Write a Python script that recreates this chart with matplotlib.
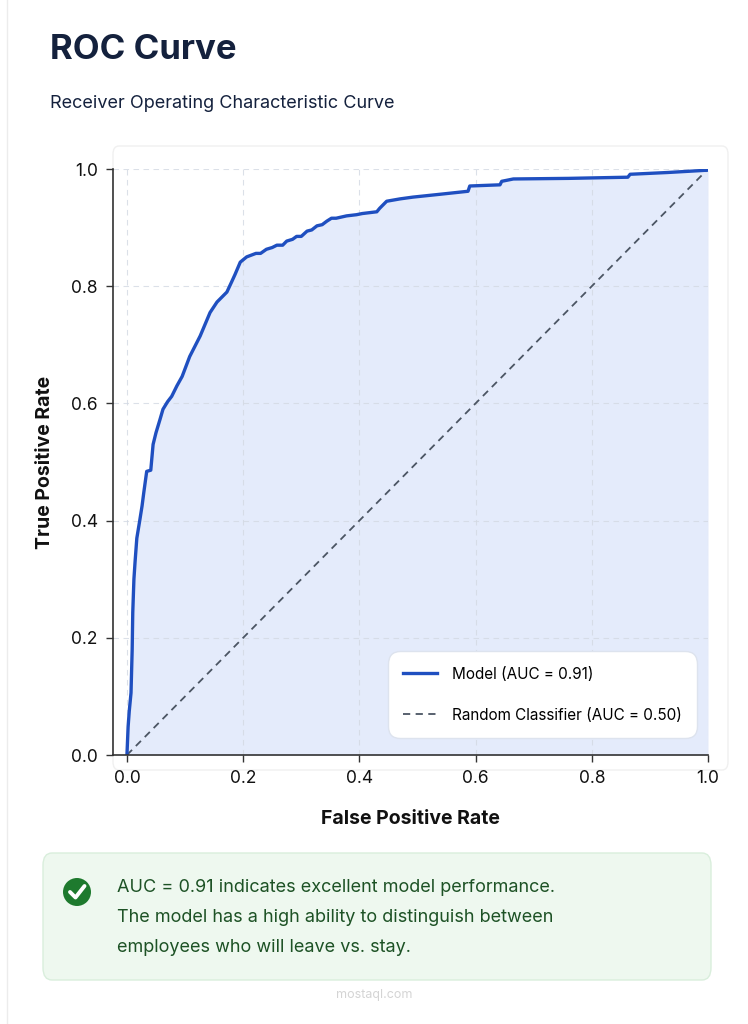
import numpy as np
import matplotlib
matplotlib.use("Agg")
import matplotlib.pyplot as plt
from matplotlib.patches import FancyBboxPatch, Circle
from matplotlib.lines import Line2D

# ROC points
fpr = [0.000, 0.002, 0.004, 0.007, 0.009, 0.010, 0.012, 0.014, 0.017, 0.022,
       0.026, 0.029, 0.034, 0.041, 0.045, 0.050, 0.057, 0.062, 0.070, 0.077,
       0.086, 0.095, 0.108, 0.126, 0.143, 0.155, 0.172, 0.180, 0.186, 0.195,
       0.206, 0.222, 0.230, 0.240, 0.250, 0.258, 0.268, 0.275, 0.285, 0.292,
       0.300, 0.310, 0.318, 0.327, 0.336, 0.344, 0.352, 0.360, 0.378, 0.395,
       0.405, 0.430, 0.435, 0.447, 0.470, 0.492, 0.540, 0.587, 0.590, 0.642,
       0.645, 0.665, 0.760, 0.862, 0.866, 0.930, 1.000]
tpr = [0.000, 0.048, 0.075, 0.106, 0.180, 0.243, 0.300, 0.330, 0.370, 0.400,
       0.425, 0.448, 0.484, 0.486, 0.530, 0.550, 0.573, 0.590, 0.603, 0.612,
       0.630, 0.646, 0.680, 0.715, 0.755, 0.773, 0.790, 0.807, 0.820, 0.841,
       0.850, 0.856, 0.856, 0.863, 0.866, 0.870, 0.870, 0.877, 0.880, 0.885,
       0.885, 0.894, 0.896, 0.903, 0.905, 0.911, 0.916, 0.916, 0.920, 0.922,
       0.924, 0.927, 0.933, 0.945, 0.949, 0.952, 0.957, 0.962, 0.971, 0.973,
       0.979, 0.983, 0.984, 0.986, 0.991, 0.994, 0.998]

auc_model = 0.91
auc_random = 0.50
ticks = [0.0, 0.2, 0.4, 0.6, 0.8, 1.0]

plt.rcParams['font.family'] = ['Inter', 'Roboto', 'DejaVu Sans']

navy = '#14213d'
blue = '#1f4fc0'

fig = plt.figure(figsize=(7.48, 10.24), dpi=100)
fig.patch.set_facecolor('white')

# faint card edge
fig.add_artist(Line2D([0.009, 0.009], [0.0, 1.0], color='#ececec', lw=1.0,
                      transform=fig.transFigure))

fig.text(50/748, 1 - 50/1024, 'ROC Curve', fontsize=25, fontweight='bold',
         color=navy, va='center', ha='left')
fig.text(50/748, 1 - 103/1024, 'Receiver Operating Characteristic Curve',
         fontsize=13, color=navy, va='center', ha='left')

# light frame around plot area
fig.add_artist(FancyBboxPatch((113/748, 1 - 770/1024), 615/748, 624/1024,
                              boxstyle='round,pad=0,rounding_size=0.008',
                              transform=fig.transFigure, facecolor='none',
                              edgecolor='#f0f0f0', lw=1.0, zorder=0))

ax = fig.add_axes([113/748, 1 - 755/1024, 595/748, 586/1024])
ax.set_facecolor('white')
ax.fill_between(fpr, tpr, 0, color='#e4ebfb', zorder=1, lw=0)
ax.plot([0, 1], [0, 1], ls=(0, (4, 3)), color='#4b5563', lw=1.3, zorder=3,
        label=f'Random Classifier (AUC = {auc_random:.2f})')
ax.plot(fpr, tpr, color=blue, lw=2.4, zorder=4, solid_joinstyle='round',
        label=f'Model (AUC = {auc_model:.2f})')

ax.set_xlim(-0.024, 1.0)
ax.set_ylim(0, 1.0)
ax.set_xticks(ticks)
ax.set_yticks(ticks)
ax.set_xticklabels([f'{t:.1f}' for t in ticks])
ax.set_yticklabels([f'{t:.1f}' for t in ticks])
ax.tick_params(labelsize=12.5, length=5, width=1, color='#333333',
               labelcolor='#111111', pad=6)
ax.set_axisbelow('line')
ax.grid(True, ls=(0, (5, 4)), color='#d3d9e3', lw=0.8, alpha=0.8)
for s in ['top', 'right']:
    ax.spines[s].set_visible(False)
for s in ['left', 'bottom']:
    ax.spines[s].set_color('#333333')
    ax.spines[s].set_linewidth(1.2)
    ax.spines[s].set_zorder(5)

ax.set_xlabel('False Positive Rate', fontsize=14, fontweight='bold',
              color='#111111', labelpad=16)
ax.set_ylabel('True Positive Rate', fontsize=14, fontweight='bold',
              color='#111111', labelpad=12)

h, l = ax.get_legend_handles_labels()
leg = ax.legend(h[::-1], l[::-1], loc='lower right',
                bbox_to_anchor=(0.9815, 0.029), borderaxespad=0,
                fontsize=11, frameon=True,
                fancybox=True, borderpad=1.0, labelspacing=1.7,
                handlelength=2.2, handletextpad=1.0, framealpha=1)
leg.get_frame().set_edgecolor('#dde3ee')
leg.get_frame().set_facecolor('white')
leg.get_frame().set_linewidth(1.0)
leg.get_frame().set_boxstyle('round,pad=0,rounding_size=0.8')
leg.set_zorder(6)

# info box
fig.add_artist(FancyBboxPatch((43/748, 1 - 980/1024), 668/748, 127/1024,
                              boxstyle='round,pad=0,rounding_size=0.012',
                              transform=fig.transFigure, facecolor='#eef8ef',
                              edgecolor='#d9eedc', lw=1.0))
fig.add_artist(Circle((77, 1024 - 892), 14, transform=None,
                      facecolor='#1e7a2e', edgecolor='none'))
fig.add_artist(Line2D([70, 75.5, 84.5], [1024 - 892, 1024 - 897.5, 1024 - 886],
                      transform=None, color='white', lw=2.8,
                      solid_capstyle='round', solid_joinstyle='round'))
info = ['AUC = 0.91 indicates excellent model performance.',
        'The model has a high ability to distinguish between',
        'employees who will leave vs. stay.']
for i, line in enumerate(info):
    fig.text(117/748, 1 - (887 + 30 * i)/1024, line, fontsize=13,
             color='#1d5225', va='center', ha='left')

fig.text(374/748, 1 - 995/1024, 'mostaql.com', fontsize=9, color='#d4d4d4',
         ha='center', va='center')

fig.savefig('out.png', dpi=100)
